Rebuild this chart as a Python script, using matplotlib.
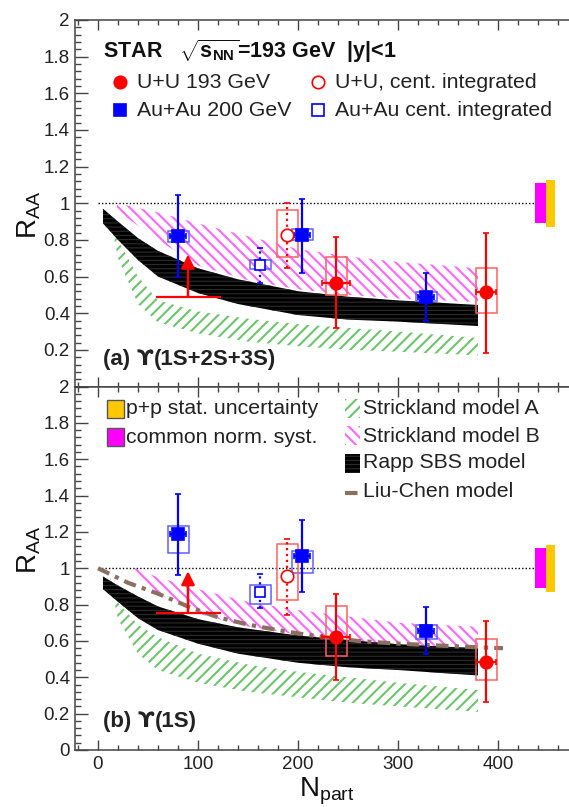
import numpy as np
import matplotlib.pyplot as plt
from matplotlib.patches import Rectangle
from matplotlib.lines import Line2D
from matplotlib.ticker import MultipleLocator, FuncFormatter
from matplotlib.transforms import ScaledTranslation

plt.rcParams['font.family'] = ['Liberation Sans', 'DejaVu Sans']
plt.rcParams['mathtext.fontset'] = 'custom'
plt.rcParams['mathtext.rm'] = 'Liberation Sans'
plt.rcParams['mathtext.it'] = 'Liberation Sans'
plt.rcParams['mathtext.bf'] = 'Liberation Sans:bold'
plt.rcParams['hatch.linewidth'] = 1.5

# ---- data: U+U 193 GeV (centrality bins) ----
uu_npart = [238, 388]
uu_nerr = [14, 10]
uu_raa_a = [0.567, 0.513]
uu_stat_lo_a = [0.318, 0.185]
uu_stat_hi_a = [0.815, 0.840]
uu_sys_lo_a = [0.497, 0.403]
uu_sys_hi_a = [0.706, 0.649]
uu_raa_b = [0.623, 0.485]
uu_stat_lo_b = [0.385, 0.262]
uu_stat_hi_b = [0.861, 0.711]
uu_sys_lo_b = [0.518, 0.385]
uu_sys_hi_b = [0.791, 0.610]

# U+U peripheral bin: lower limit (arrow)
uu_lim_npart = [90]
uu_lim_nerr = [32.5]
uu_lim_a = [0.49]
uu_lim_b = [0.754]

# ---- data: Au+Au 200 GeV ----
au_npart = [80, 204, 328]
au_nerr = [8, 8, 8]
au_raa_a = [0.819, 0.828, 0.491]
au_stat_lo_a = [0.600, 0.622, 0.360]
au_stat_hi_a = [1.046, 1.023, 0.622]
au_sys_lo_a = [0.787, 0.797, 0.466]
au_sys_hi_a = [0.851, 0.859, 0.516]
au_raa_b = [1.190, 1.066, 0.656]
au_stat_lo_b = [0.965, 0.870, 0.527]
au_stat_hi_b = [1.407, 1.268, 0.788]
au_sys_lo_b = [1.086, 0.974, 0.608]
au_sys_hi_b = [1.231, 1.093, 0.687]

# ---- centrality integrated ----
uu_int_npart = [189]
uu_int_a = [0.828]
uu_int_stat_lo_a = [0.646]
uu_int_stat_hi_a = [1.001]
uu_int_sys_lo_a = [0.706]
uu_int_sys_hi_a = [0.961]
uu_int_b = [0.956]
uu_int_stat_lo_b = [0.742]
uu_int_stat_hi_b = [1.163]
uu_int_sys_lo_b = [0.828]
uu_int_sys_hi_b = [1.136]

au_int_npart = [162]
au_int_a = [0.664]
au_int_stat_lo_a = [0.564]
au_int_stat_hi_a = [0.755]
au_int_sys_lo_a = [0.640]
au_int_sys_hi_a = [0.690]
au_int_b = [0.870]
au_int_stat_lo_b = [0.784]
au_int_stat_hi_b = [0.971]
au_int_sys_lo_b = [0.806]
au_int_sys_hi_b = [0.910]

# global uncertainties at R_AA = 1
norm_syst = 0.11
pp_stat = 0.128

# ---- models ----
rapp_n = [5, 20, 40, 60, 100, 140, 200, 250, 300, 380]
rapp_a_hi = [0.97, 0.90, 0.81, 0.74, 0.645, 0.585, 0.52, 0.49, 0.47, 0.445]
rapp_a_lo = [0.89, 0.80, 0.69, 0.60, 0.51, 0.45, 0.39, 0.365, 0.354, 0.33]
rapp_b_hi = [0.955, 0.905, 0.845, 0.79, 0.72, 0.675, 0.63, 0.605, 0.582, 0.56]
rapp_b_lo = [0.885, 0.815, 0.725, 0.66, 0.585, 0.53, 0.48, 0.455, 0.44, 0.41]

strA_n = [12, 20, 40, 60, 100, 150, 200, 250, 300, 380]
strA_a_hi = [0.95, 0.80, 0.60, 0.47, 0.41, 0.37, 0.34, 0.32, 0.30, 0.265]
strA_a_lo = [0.93, 0.70, 0.45, 0.35, 0.29, 0.245, 0.22, 0.20, 0.19, 0.17]
strA_b_hi = [0.95, 0.81, 0.69, 0.62, 0.53, 0.47, 0.43, 0.40, 0.37, 0.33]
strA_b_lo = [0.93, 0.72, 0.53, 0.44, 0.37, 0.32, 0.29, 0.26, 0.24, 0.21]

strB_a_n = [19, 60, 100, 150, 200, 250, 300, 380]
strB_a_hi = [1.0, 0.95, 0.89, 0.82, 0.75, 0.71, 0.68, 0.645]
strB_a_lo = [0.96, 0.80, 0.66, 0.58, 0.53, 0.50, 0.48, 0.46]
strB_b_n = [37, 60, 100, 150, 200, 250, 300, 380]
strB_b_hi = [1.0, 0.95, 0.885, 0.815, 0.77, 0.735, 0.70, 0.678]
strB_b_lo = [0.96, 0.86, 0.75, 0.68, 0.635, 0.60, 0.58, 0.567]

liu_n = [0, 30, 60, 90, 120, 150, 190, 220, 260, 300, 340, 380, 405]
liu_b = [1.0, 0.92, 0.86, 0.79, 0.73, 0.69, 0.65, 0.625, 0.60, 0.585, 0.575, 0.565, 0.56]

W, H = 569, 807
RED, BLUE = '#ff0000', '#0000ff'
RED_BOX, BLUE_BOX = '#ff6060', '#6060ff'
GREEN, MAGENTA, BROWN = '#6cc46c', '#ff66ff', '#8a7060'
RAPP_LINES = '#2c2c2c'
BOX_HW = 10.5
ARROW_LEN = 0.23

fig = plt.figure(figsize=(W / 100, H / 100), dpi=100)
ax_a = fig.add_axes([75.5 / W, 1 - 386.5 / H, 493.5 / W, 366.5 / H])
ax_b = fig.add_axes([75.5 / W, 1 - 750 / H, 493.5 / W, 363.5 / H])


def sys_boxes(ax, n, lo, hi, color):
    for x, l, h in zip(n, lo, hi):
        ax.add_patch(Rectangle((x - BOX_HW, l), 2 * BOX_HW, h - l, fill=False,
                               edgecolor=color, lw=1.1, zorder=5))


def points(ax, n, r, lo, hi, nerr, color, marker, ms, filled, dotted=False):
    yerr = [np.subtract(r, lo), np.subtract(hi, r)]
    eb = ax.errorbar(n, r, yerr=yerr, xerr=nerr, fmt=marker, color=color,
                     mfc=color if filled else 'white', mec=color, ms=ms, mew=1.2,
                     elinewidth=1.6, capsize=2.5, capthick=1.6, zorder=6)
    if dotted:
        for c in eb[2]:
            c.set_linestyle(':')


def panel(ax, rapp_hi, rapp_lo, sA_hi, sA_lo, sB_n, sB_hi, sB_lo,
          uu, uu_lo, uu_hi, uu_slo, uu_shi, au, au_lo, au_hi, au_slo, au_shi,
          uui, uui_lo, uui_hi, uui_slo, uui_shi, aui, aui_lo, aui_hi, aui_slo, aui_shi,
          lim):
    ax.fill_between(strA_n, sA_lo, sA_hi, facecolor='none', edgecolor=GREEN,
                    hatch='///', lw=0, zorder=1)
    ax.fill_between(sB_n, sB_lo, sB_hi, facecolor='none', edgecolor=MAGENTA,
                    hatch='\\\\\\', lw=0, zorder=2)
    with plt.rc_context({'hatch.linewidth': 0.8}):
        ax.fill_between(rapp_n, rapp_lo, rapp_hi, facecolor='black', edgecolor=RAPP_LINES,
                        hatch='----', lw=0, zorder=3)
    ax.hlines(1, 0, 438, colors='black', linestyles=(0, (1, 1.5)), lw=1.0, zorder=2)
    ax.add_patch(Rectangle((437, 1 - norm_syst), 11, 2 * norm_syst, color='#ff00ff', lw=0, zorder=4))
    ax.add_patch(Rectangle((448, 1 - pp_stat), 9, 2 * pp_stat, color='#ffc800', lw=0, zorder=4))

    sys_boxes(ax, uu_npart, uu_slo, uu_shi, RED_BOX)
    sys_boxes(ax, au_npart, au_slo, au_shi, BLUE_BOX)
    sys_boxes(ax, uu_int_npart, uui_slo, uui_shi, RED_BOX)
    sys_boxes(ax, au_int_npart, aui_slo, aui_shi, BLUE_BOX)
    points(ax, uu_npart, uu, uu_lo, uu_hi, uu_nerr, RED, 'o', 9, True)
    points(ax, au_npart, au, au_lo, au_hi, au_nerr, BLUE, 's', 8, True)
    points(ax, uu_int_npart, uui, uui_lo, uui_hi, None, RED, 'o', 9, False, True)
    points(ax, au_int_npart, aui, aui_lo, aui_hi, None, BLUE, 's', 7.5, False, True)

    ax.errorbar(uu_lim_npart, lim, xerr=uu_lim_nerr, fmt='none', color=RED,
                elinewidth=1.6, capsize=0, zorder=6)
    for x, y in zip(uu_lim_npart, lim):
        ax.annotate('', xy=(x, y + ARROW_LEN), xytext=(x, y),
                    arrowprops=dict(arrowstyle='-|>', color=RED, lw=1.8,
                                    mutation_scale=20, shrinkA=0, shrinkB=0),
                    zorder=6)

    ax.set_xlim(-22.5, 471)
    ax.set_ylim(0, 2)
    ax.xaxis.set_major_locator(MultipleLocator(100))
    ax.xaxis.set_minor_locator(MultipleLocator(20))
    ax.yaxis.set_major_locator(MultipleLocator(0.2))
    ax.yaxis.set_minor_locator(MultipleLocator(0.04))
    ax.tick_params(which='both', direction='in', top=True, bottom=True, left=True,
                   right=False, colors='#444444', labelcolor='#222222', labelsize=13.5)
    ax.tick_params(axis='y', which='major', length=9.5, width=1.0, pad=4)
    ax.tick_params(axis='y', which='minor', length=4.5, width=1.0)
    ax.tick_params(axis='x', which='major', length=7, width=1.0, pad=4)
    ax.tick_params(axis='x', which='minor', length=3.8, width=1.0)
    ax.spines['right'].set_visible(False)
    for s in ['left', 'top', 'bottom']:
        ax.spines[s].set_color('#444444')
        ax.spines[s].set_linewidth(1.1)


panel(ax_a, rapp_a_hi, rapp_a_lo, strA_a_hi, strA_a_lo, strB_a_n, strB_a_hi, strB_a_lo,
      uu_raa_a, uu_stat_lo_a, uu_stat_hi_a, uu_sys_lo_a, uu_sys_hi_a,
      au_raa_a, au_stat_lo_a, au_stat_hi_a, au_sys_lo_a, au_sys_hi_a,
      uu_int_a, uu_int_stat_lo_a, uu_int_stat_hi_a, uu_int_sys_lo_a, uu_int_sys_hi_a,
      au_int_a, au_int_stat_lo_a, au_int_stat_hi_a, au_int_sys_lo_a, au_int_sys_hi_a,
      uu_lim_a)
panel(ax_b, rapp_b_hi, rapp_b_lo, strA_b_hi, strA_b_lo, strB_b_n, strB_b_hi, strB_b_lo,
      uu_raa_b, uu_stat_lo_b, uu_stat_hi_b, uu_sys_lo_b, uu_sys_hi_b,
      au_raa_b, au_stat_lo_b, au_stat_hi_b, au_sys_lo_b, au_sys_hi_b,
      uu_int_b, uu_int_stat_lo_b, uu_int_stat_hi_b, uu_int_sys_lo_b, uu_int_sys_hi_b,
      au_int_b, au_int_stat_lo_b, au_int_stat_hi_b, au_int_sys_lo_b, au_int_sys_hi_b,
      uu_lim_b)
ax_b.plot(liu_n, liu_b, color=BROWN, lw=3, ls=(0, (3, 1.5, 1, 1.5)), zorder=4)

ax_a.yaxis.set_major_formatter(FuncFormatter(lambda v, p: '' if v < 0.01 else f'{v:g}'))
ax_b.yaxis.set_major_formatter(FuncFormatter(lambda v, p: f'{v:g}'))
ax_a.tick_params(axis='x', labelbottom=False)

for ax, yc in [(ax_a, 0.468), (ax_b, 0.55)]:
    ax.set_ylabel(r'R$_{\mathrm{AA}}$', fontsize=20, color='#111111')
    ax.yaxis.set_label_coords(-0.065, yc)
ax_b.set_xlabel(r'N$_{\mathrm{part}}$', fontsize=20, color='#111111')
ax_b.xaxis.set_label_coords(0.51, -0.072)

# panel labels on one baseline; the hooked upsilon comes from DejaVu Sans
renderer = fig.canvas.get_renderer()
for ax, yb, pieces in [(ax_a, 0.058, ['(a) ', 'ϒ', '(1S+2S+3S)']),
                       (ax_b, 0.062, ['(b) ', 'ϒ', '(1S)'])]:
    shift = 0.0
    for piece in pieces:
        fam = 'DejaVu Sans' if piece == 'ϒ' else None
        tr = ax.transAxes + ScaledTranslation(shift / fig.dpi, 0, fig.dpi_scale_trans)
        t = ax.text(0.0557, yb, piece, transform=tr, fontsize=16, fontweight='bold',
                    va='baseline', color='#222222', family=fam)
        shift += t.get_window_extent(renderer).width + (1 if fam else 0)


# ---- legends (figure pixel coordinates) ----
def fx(x):
    return x / W


def fy(y):
    return 1 - y / H


LEG_FS = 15.3
fig.text(fx(103), fy(51), r'STAR   $\sqrt{\mathbf{s}_{\mathbf{NN}}}$=193 GeV  |y|<1',
         fontsize=15.5, fontweight='bold', va='center', color='#111111')
leg_a = [
    (120, 82, 'o', RED, True, 'U+U 193 GeV'),
    (120, 110, 's', BLUE, True, 'Au+Au 200 GeV'),
    (318, 82, 'o', RED, False, 'U+U, cent. integrated'),
    (318, 110, 's', BLUE, False, 'Au+Au cent. integrated'),
]
for x, y, m, c, filled, lab in leg_a:
    fig.add_artist(Line2D([fx(x)], [fy(y)], marker=m, ms=9 if m == 'o' else 8, mec=c,
                          mfc=c if filled else 'white', mew=1.2, ls='none',
                          transform=fig.transFigure))
    fig.text(fx(x + 17), fy(y), lab, fontsize=LEG_FS, va='center', color='#222222')

leg_b1 = [(409, '#ffc800', 'p+p stat. uncertainty'), (437, '#ff00ff', 'common norm. syst.')]
for y, c, lab in leg_b1:
    fig.add_artist(Rectangle((fx(107), fy(y + 9)), 17 / W, 18 / H, facecolor=c,
                             edgecolor='#555555', lw=1.0, transform=fig.transFigure))
    fig.text(fx(126), fy(y), lab, fontsize=LEG_FS, va='center', color='#222222')

leg_b2 = [(409, GREEN, '///', 'none', 'Strickland model A'),
          (436, MAGENTA, '\\\\\\', 'none', 'Strickland model B')]
for y, ec, h, fc, lab in leg_b2:
    fig.add_artist(Rectangle((fx(345), fy(y + 9.5)), 15 / W, 19 / H, facecolor=fc,
                             edgecolor=ec, hatch=h, lw=0, transform=fig.transFigure))
    fig.text(fx(363), fy(y), lab, fontsize=LEG_FS, va='center', color='#222222')
with plt.rc_context({'hatch.linewidth': 0.8}):
    fig.add_artist(Rectangle((fx(345), fy(463 + 9.5)), 15 / W, 19 / H, facecolor='black',
                             edgecolor=RAPP_LINES, hatch='----', lw=0, transform=fig.transFigure))
fig.text(fx(363), fy(463), 'Rapp SBS model', fontsize=LEG_FS, va='center', color='#222222')
fig.add_artist(Line2D([fx(345), fx(360)], [fy(493), fy(493)], color=BROWN, lw=3,
                      ls=(0, (3, 1.5, 1, 1.5)), transform=fig.transFigure))
fig.text(fx(363), fy(492), 'Liu-Chen model', fontsize=LEG_FS, va='center', color='#222222')

fig.savefig('out.png', dpi=100)
